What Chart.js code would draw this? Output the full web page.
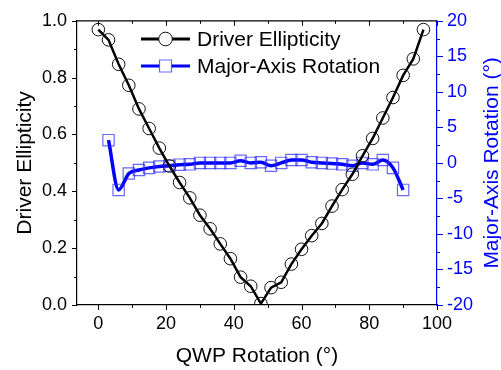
<!DOCTYPE html>
<html>
<head>
<meta charset="utf-8">
<script src="https://cdn.jsdelivr.net/npm/chart.js@4/dist/chart.umd.min.js"></script>
<style>
  html, body { margin: 0; padding: 0; background: #fff; }
  canvas { display: block; }
</style>
</head>
<body>
<canvas id="c" width="501" height="370"></canvas>
<script>
// QWP rotation angles (degrees) for each measured series
const ellipAngles = [0, 3, 6, 9, 12, 15, 18, 21, 24, 27, 30, 33, 36, 39, 42, 45, 48,
  51, 54, 57, 60, 63, 66, 69, 72, 75, 78, 81, 84, 87, 90, 93, 96];
const ellipticity = [0.969, 0.933, 0.847, 0.773, 0.690, 0.621, 0.552, 0.489, 0.431,
  0.377, 0.316, 0.268, 0.215, 0.163, 0.098, 0.066, 0.005, 0.061, 0.080, 0.144, 0.196,
  0.244, 0.287, 0.348, 0.406, 0.460, 0.525, 0.586, 0.658, 0.730, 0.808, 0.866, 0.969];

const rotAngles = [3, 6, 9, 12, 15, 18, 21, 24, 27, 30, 33, 36, 39, 42, 45,
  48, 51, 54, 57, 60, 63, 66, 69, 72, 75, 78, 81, 84, 87, 90];
const majorAxisRotation = [3.2, -3.8, -1.5, -1.0, -0.7, -0.5, -0.4, -0.25, -0.2, 0.0,
  0.0, 0.0, 0.0, 0.3, 0.0, 0.1, -0.4, 0.0, 0.4, 0.4, 0.1, 0.0, -0.1, -0.2, -0.4,
  0.0, -0.2, 0.4, -0.7, -3.8];

// Axis tick labels
const xTicks = [0, 20, 40, 60, 80, 100];
const yLeftTicks = [0.0, 0.2, 0.4, 0.6, 0.8, 1.0];
const yRightTicks = [-20, -15, -10, -5, 0, 5, 10, 15, 20];

const seriesNames = ['Driver Ellipticity', 'Major-Axis Rotation'];
const axisTitles = { x: 'QWP Rotation (°)', y: 'Driver Ellipticity', y2: 'Major-Axis Rotation (°)' };

const FONT = '"Liberation Sans", Arial, Helvetica, sans-serif';
const BLUE = '#0000ff';

// Tick marks, top frame line, axis titles and the inset legend
const decorations = {
  id: 'decorations',
  afterDraw(chart) {
    const { ctx, chartArea: a, scales } = chart;
    const xs = scales.x, yl = scales.y, yr = scales.y2;
    ctx.save();

    // top frame line
    ctx.strokeStyle = '#000';
    ctx.lineWidth = 1.2;
    ctx.beginPath();
    ctx.moveTo(a.left, a.top);
    ctx.lineTo(a.right, a.top);
    ctx.stroke();

    // x ticks: outward on the bottom, inward on the top
    ctx.lineWidth = 1;
    for (let i = 0; i < xTicks.length; i++) {
      const vals = [xTicks[i]];
      if (i < xTicks.length - 1) vals.push((xTicks[i] + xTicks[i + 1]) / 2);
      vals.forEach((v, k) => {
        const px = Math.round(xs.getPixelForValue(v)) + 0.5;
        const len = k === 0 ? 5 : 3;
        ctx.beginPath();
        ctx.moveTo(px, a.bottom);
        ctx.lineTo(px, a.bottom + len);
        ctx.moveTo(px, a.top);
        ctx.lineTo(px, a.top + len);
        ctx.stroke();
      });
    }

    // left y ticks (outward)
    for (let i = 0; i < yLeftTicks.length; i++) {
      const vals = [yLeftTicks[i]];
      if (i < yLeftTicks.length - 1) vals.push((yLeftTicks[i] + yLeftTicks[i + 1]) / 2);
      vals.forEach((v, k) => {
        const py = Math.round(yl.getPixelForValue(v)) + 0.5;
        const len = k === 0 ? 5 : 3;
        ctx.beginPath();
        ctx.moveTo(a.left, py);
        ctx.lineTo(a.left - len, py);
        ctx.stroke();
      });
    }

    // right y ticks (outward, blue)
    ctx.strokeStyle = BLUE;
    for (let i = 0; i < yRightTicks.length; i++) {
      const vals = [yRightTicks[i]];
      if (i < yRightTicks.length - 1) vals.push((yRightTicks[i] + yRightTicks[i + 1]) / 2);
      vals.forEach((v, k) => {
        const py = Math.round(yr.getPixelForValue(v)) + 0.5;
        const len = k === 0 ? 6 : 3;
        ctx.beginPath();
        ctx.moveTo(a.right, py);
        ctx.lineTo(a.right + len, py);
        ctx.stroke();
      });
    }

    // axis titles
    ctx.font = '21px ' + FONT;
    ctx.fillStyle = '#000';
    ctx.textAlign = 'center';
    ctx.textBaseline = 'alphabetic';
    ctx.fillText(axisTitles.x, (a.left + a.right) / 2, 362);

    const midY = (a.top + a.bottom) / 2;
    ctx.save();
    ctx.translate(31, midY);
    ctx.rotate(-Math.PI / 2);
    ctx.fillText(axisTitles.y, 0, 0);
    ctx.restore();

    ctx.save();
    ctx.fillStyle = BLUE;
    ctx.translate(498, midY);
    ctx.rotate(-Math.PI / 2);
    ctx.fillText(axisTitles.y2, 0, 0);
    ctx.restore();

    // inset legend
    const rows = [{ y: 39, ds: chart.data.datasets[0] }, { y: 66, ds: chart.data.datasets[1] }];
    const x0 = 141, x1 = 190, xm = (x0 + x1) / 2;
    rows.forEach(r => {
      ctx.strokeStyle = r.ds.borderColor;
      ctx.lineWidth = 3;
      ctx.beginPath();
      ctx.moveTo(x0, r.y);
      ctx.lineTo(x1, r.y);
      ctx.stroke();
      ctx.fillStyle = '#fff';
      ctx.strokeStyle = r.ds.pointBorderColor;
      ctx.lineWidth = r.ds.pointBorderWidth;
      if (r.ds.pointStyle === 'rect') {
        ctx.beginPath();
        ctx.rect(xm - 6, r.y - 6, 12, 12);
        ctx.fill();
        ctx.stroke();
      } else {
        ctx.beginPath();
        ctx.arc(xm, r.y, 6.8, 0, Math.PI * 2);
        ctx.fill();
        ctx.stroke();
      }
      ctx.fillStyle = '#000';
      ctx.textAlign = 'left';
      ctx.font = '21px ' + FONT;
      ctx.fillText(r.ds.label, 197, r.y + 7);
    });

    ctx.restore();
  }
};

new Chart(document.getElementById('c'), {
  type: 'line',
  data: {
    datasets: [
      {
        label: seriesNames[0],
        data: ellipAngles.map((a, i) => ({ x: a, y: ellipticity[i] })),
        yAxisID: 'y',
        borderColor: '#000000',
        borderWidth: 2.5,
        pointStyle: 'circle',
        pointRadius: 6.3,
        pointBorderWidth: 1,
        pointBorderColor: '#111111',
        pointBackgroundColor: 'rgba(0,0,0,0)',
        tension: 0,
        fill: false
      },
      {
        label: seriesNames[1],
        data: rotAngles.map((a, i) => ({ x: a, y: majorAxisRotation[i] })),
        yAxisID: 'y2',
        borderColor: BLUE,
        borderWidth: 3.5,
        cubicInterpolationMode: 'monotone',
        pointStyle: 'rect',
        pointRadius: 8,
        pointBorderWidth: 1.2,
        pointBorderColor: 'rgba(40,40,255,0.7)',
        pointBackgroundColor: 'rgba(0,0,0,0)',
        fill: false
      }
    ]
  },
  options: {
    responsive: false,
    devicePixelRatio: 1,
    animation: false,
    events: [],
    layout: { padding: { top: 15, left: 0, right: 0, bottom: 0 } },
    plugins: { legend: { display: false }, tooltip: { enabled: false } },
    scales: {
      x: {
        type: 'linear',
        position: 'bottom',
        min: -6.3,
        max: 100,
        afterBuildTicks: s => { s.ticks = xTicks.map(v => ({ value: v })); },
        afterFit: s => { s.height = 65; },
        grid: { display: false, drawTicks: false },
        border: { display: true, color: '#000', width: 1.2 },
        ticks: { color: '#000', padding: 8, maxRotation: 0, font: { family: FONT, size: 18 } }
      },
      y: {
        type: 'linear',
        position: 'left',
        min: 0,
        max: 1,
        afterBuildTicks: s => { s.ticks = yLeftTicks.map(v => ({ value: v })); },
        afterFit: s => { s.width = 77; },
        grid: { display: false, drawTicks: false },
        border: { display: true, color: '#000', width: 1.2 },
        ticks: { color: '#000', padding: 10, font: { family: FONT, size: 18 },
          callback: v => Number(v).toFixed(1) }
      },
      y2: {
        type: 'linear',
        position: 'right',
        min: -20,
        max: 20,
        afterBuildTicks: s => { s.ticks = yRightTicks.map(v => ({ value: v })); },
        afterFit: s => { s.width = 64; },
        grid: { display: false, drawTicks: false },
        border: { display: true, color: BLUE, width: 1.2 },
        ticks: { color: BLUE, padding: 10, font: { family: FONT, size: 18 },
          callback: v => String(v) }
      }
    }
  },
  plugins: [decorations]
});
</script>
</body>
</html>
